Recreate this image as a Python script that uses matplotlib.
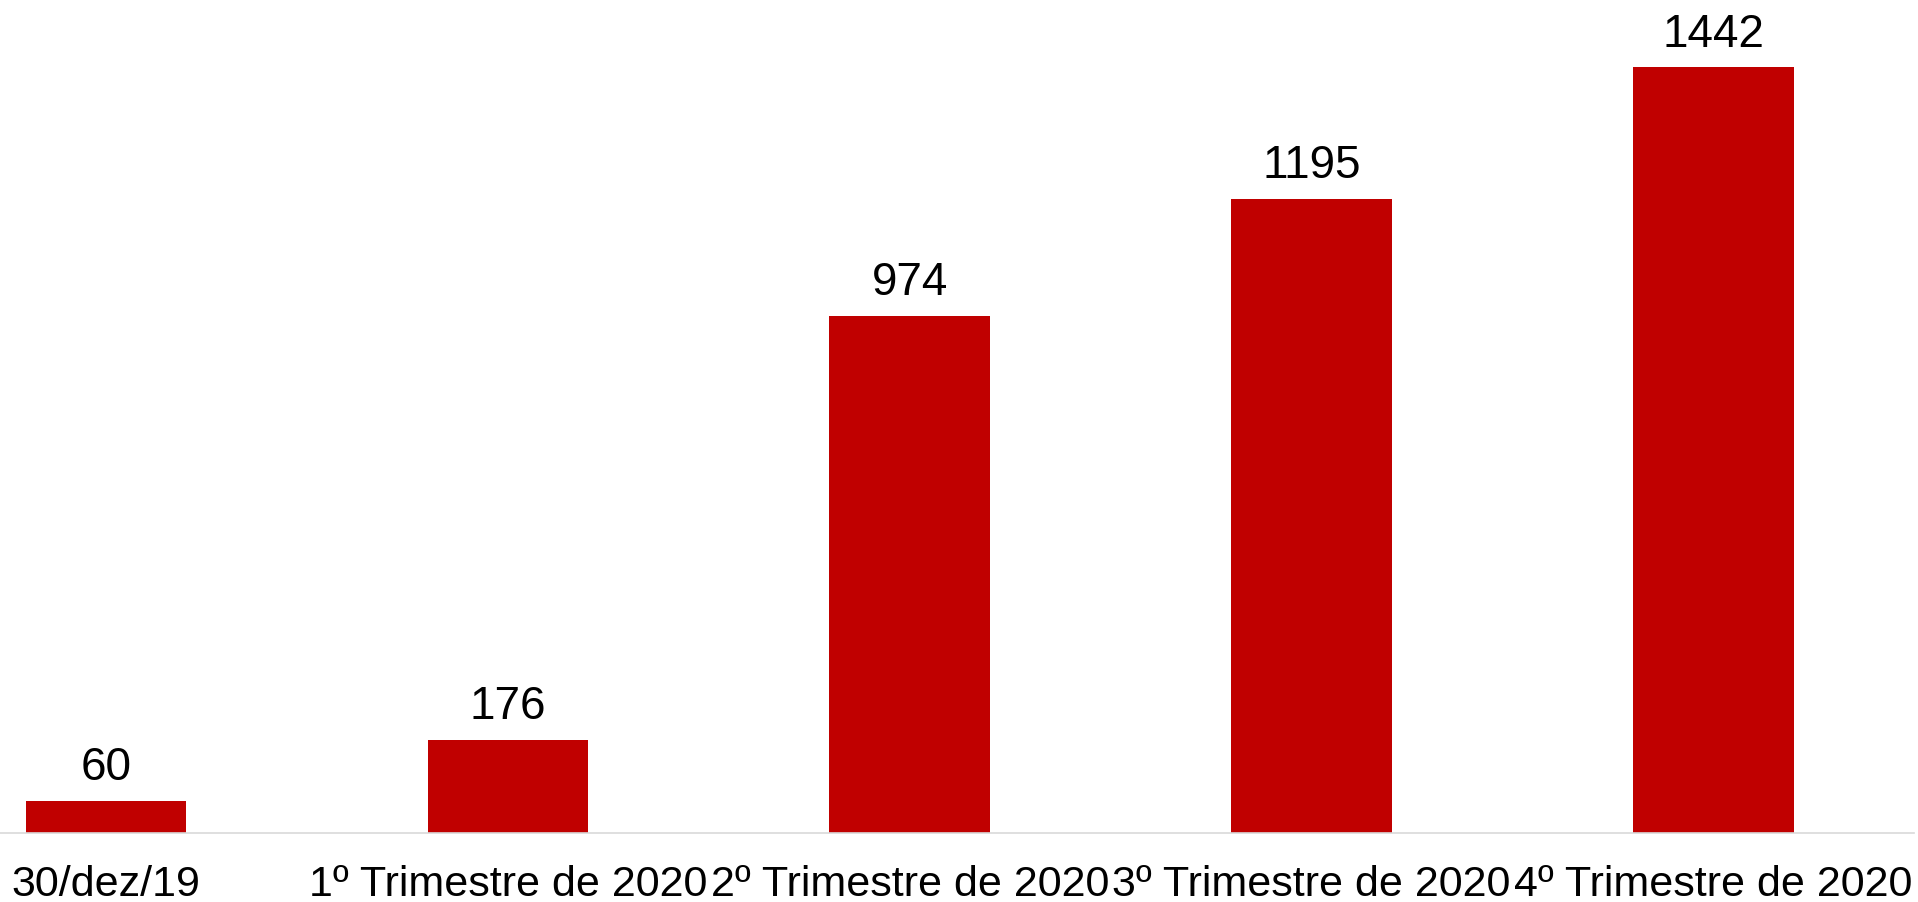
import matplotlib.pyplot as plt

categorias = ["30/dez/19", "1º Trimestre de 2020", "2º Trimestre de 2020",
              "3º Trimestre de 2020", "4º Trimestre de 2020"]
valores = [60, 176, 974, 1195, 1442]

plt.rcParams['font.family'] = ['Liberation Sans', 'DejaVu Sans']

fig = plt.figure(figsize=(19.18, 9.03), dpi=100)
ax = fig.add_axes([0, 69 / 903, 1914 / 1918, 834 / 903])

x = range(len(categorias))
barras = ax.bar(x, valores, width=0.40, color="#C00000")
for b, v in zip(barras, valores):
    ax.annotate(str(v), (b.get_x() + b.get_width() / 2, v), xytext=(0, 8.5),
                textcoords="offset points", ha="center", va="bottom", fontsize=33)

ax.set_xlim(-0.264, 4.499)
ax.set_ylim(0, 1571)
ax.set_xticks(list(x))
ax.set_xticklabels(categorias, fontsize=31)
ax.tick_params(axis="x", length=0, pad=22)
ax.set_yticks([])
for s in ["top", "left", "right"]:
    ax.spines[s].set_visible(False)
ax.spines["bottom"].set_color("#d9d9d9")
ax.spines["bottom"].set_linewidth(1.2)

fig.savefig("out.png", dpi=100)
